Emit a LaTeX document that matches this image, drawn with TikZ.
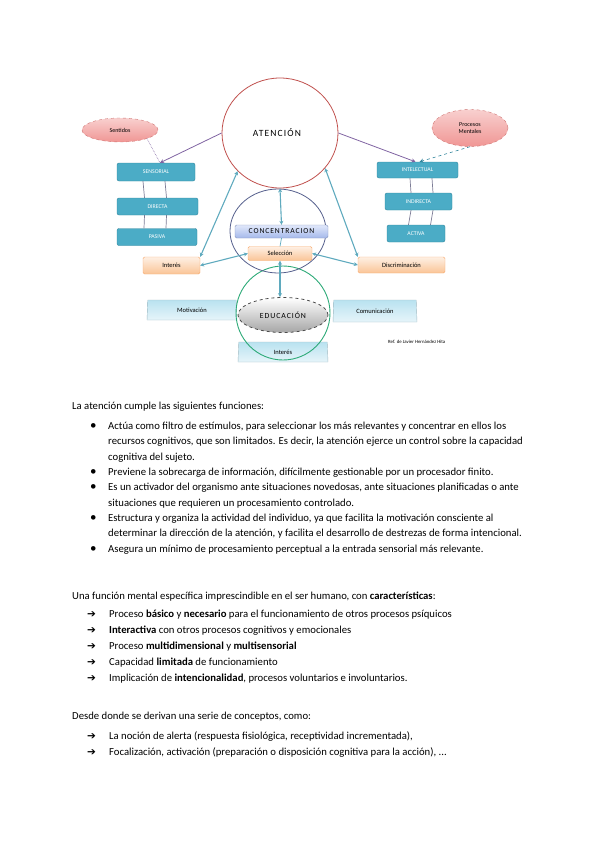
\documentclass[tikz,border=0pt]{standalone}
\usepackage{fontspec}
\setmainfont{Carlito}
\newfontfamily\flechafont{DejaVu Sans}
\newfontfamily\espaciada[LetterSpace=12]{Carlito}
\usetikzlibrary{arrows.meta, positioning, shapes.geometric, calc}
\definecolor{tealbox}{RGB}{75,172,198}
\definecolor{tealdark}{RGB}{49,133,156}
\definecolor{tealline}{RGB}{95,170,190}
\definecolor{purpline}{RGB}{128,100,162}
\definecolor{atenred}{RGB}{192,80,77}
\definecolor{concblue}{RGB}{85,95,140}
\definecolor{educgreen}{RGB}{45,170,120}
\definecolor{pinkfill}{RGB}{240,150,148}
\definecolor{orangeline}{RGB}{247,170,110}
\definecolor{orangelight}{RGB}{254,240,228}
\definecolor{orangemid}{RGB}{250,196,150}
\definecolor{lavlight}{RGB}{225,232,250}
\definecolor{lavmid}{RGB}{165,185,235}
\definecolor{skyfill}{RGB}{185,226,240}
\definecolor{grisline}{RGB}{125,125,150}
\newcommand\cuerpo{\fontsize{10.7}{12}\selectfont}
\tikzset{
  tipo/.style    = {draw=tealdark, fill=tealbox, rounded corners=2pt, text=white,
                    font=\fontsize{5.8}{6}\selectfont, minimum height=17pt},
  rasgo/.style   = {draw=orangeline, top color=orangelight, bottom color=orangemid,
                    rounded corners=1.5pt, font=\fontsize{6.5}{7}\selectfont, minimum height=17pt},
  nube/.style    = {ellipse, draw=atenred!80, dashed, top color=pinkfill!45, bottom color=pinkfill,
                    font=\fontsize{6}{7}\selectfont, align=center},
  plano/.style   = {trapezium, trapezium angle=80, trapezium stretches body,
                    draw=skyfill!60!gray, top color=skyfill, bottom color=skyfill!35,
                    font=\fontsize{6.5}{7}\selectfont, minimum height=20pt},
  flecha/.style  = {{Stealth[length=4pt,width=4pt]}-{Stealth[length=4pt,width=4pt]},
                    tealline, line width=1.1pt},
  flechap/.style = {-{Stealth[length=4pt,width=4pt]}, purpline, line width=0.8pt},
  enlace/.style  = {grisline, line width=0.7pt},
  linea/.style   = {anchor=base west, font=\cuerpo},
  vineta/.style  = {anchor=base west, font=\fontsize{13}{12}\selectfont},
}
\begin{document}
\begin{tikzpicture}[x=1pt, y=-1pt, every node/.style={inner sep=0pt}]
  \useasboundingbox (0,0) rectangle (600,848);

  % esquema de la atencion
  \node[plano, minimum width=90pt] (motiv) at (192,310) {Motivación};
  \node[plano, minimum width=84pt, minimum height=22pt] (comun) at (375,311) {Comunicación};
  \node[plano, minimum width=90pt] (inter2) at (283,352) {Interés};
  \node[circle, draw=educgreen, line width=0.9pt, minimum size=94pt] (educirc) at (283,313) {};
  \node[ellipse, draw=black!70, dashed, line width=0.8pt, top color=white, bottom color=black!35,
        minimum width=90pt, minimum height=35pt, font=\fontsize{7.8}{8}\selectfont\espaciada] (educ) at (283,315) {EDUCACIÓN};

  \node[ellipse, draw=concblue, line width=0.8pt, minimum width=96pt, minimum height=84pt] (conc) at (278,231) {};
  \node[ellipse, draw=atenred, line width=0.8pt, fill=white, minimum width=116pt, minimum height=110pt] (aten) at (280,133) {};
  \node[font=\fontsize{9.5}{11}\selectfont\espaciada] (atentxt) at (277,133) {ATENCIÓN};

  \node[draw=lavmid!80!black, top color=lavlight, bottom color=lavmid, rounded corners=1.5pt,
        minimum width=93pt, minimum height=13pt, font=\fontsize{7.6}{8}\selectfont\espaciada] (concbox) at (281.5,231.5) {CONCENTRACION};
  \node[rasgo, minimum width=64pt, minimum height=14pt] (selec) at (280,253.5) {Selección};
  \node[rasgo, minimum width=57pt] (interes) at (171.5,265.5) {Interés};
  \node[rasgo, minimum width=87pt, minimum height=16pt] (discr) at (401.5,265) {Discriminación};

  \node[tipo, minimum width=78pt, minimum height=18pt] (sens) at (156,172) {SENSORIAL};
  \node[tipo, minimum width=81pt] (dire) at (157.5,206.5) {DIRECTA};
  \node[tipo, minimum width=80pt] (pasi) at (157,237) {PASIVA};
  \node[tipo, minimum width=81pt, minimum height=16pt] (inte) at (417.5,170) {INTELECTUAL};
  \node[tipo, minimum width=67pt] (indi) at (418.5,201.5) {INDIRECTA};
  \node[tipo, minimum width=58pt] (acti) at (416,233.5) {ACTIVA};

  \node[nube, minimum width=76pt, minimum height=24pt] (sentidos) at (120,130) {Sentidos};
  \node[nube, minimum width=76pt, minimum height=37pt] (procesos) at (470,128) {Procesos\\Mentales};

  \foreach \dx in {-13,9} {
    \draw[enlace] ([xshift=\dx pt]sens.south) -- ([xshift=\dx pt]dire.north);
    \draw[enlace] ([xshift=\dx pt]dire.south) -- ([xshift=\dx pt]pasi.north);
  }
  \foreach \dx in {-7.5,14.5} {
    \draw[enlace] ([xshift=\dx pt]inte.south) -- ([xshift=\dx pt]indi.north);
    \draw[enlace] ([xshift=\dx pt]indi.south) -- ([xshift=\dx pt]acti.north);
  }

  \draw[flechap] (aten.west) -- ([xshift=4pt]sens.north);
  \draw[purpline, densely dotted, line width=0.6pt] (sentidos.south east) -- ([xshift=4pt]sens.north);
  \draw[flechap] (aten.east) -- ([xshift=-2pt]inte.north);
  \draw[-{Stealth[length=4pt,width=4pt]}, tealdark, dashed, line width=0.6pt] (procesos.south) -- ([xshift=2pt]inte.north);

  \draw[flecha] (interes.north east) -- (aten.222);
  \draw[flecha] (aten.322) -- (discr.north west);
  \draw[flecha] (aten.south) -- (concbox.north);
  \draw[enlace, tealline] (concbox.south) -- (selec.north);
  \draw[flecha] (selec.south) -- (selec.south |- educ.north);
  \draw[flecha] (interes.east) -- (selec.west);
  \draw[flecha] (selec.east) -- (discr.west);

  \node[font=\fontsize{4.8}{5}\selectfont, anchor=west] (fuente) at (388,342) {Ref. de Javier Hernández Hita};

  % funciones
  \node[linea] (p1) at (72,409) {La atención cumple las siguientes funciones:};
  \foreach \y [count=\i] in {429,475,490.5,521,552}
    \node[vineta] (b\i) at (90,\y) {•};
  \node[linea] (l1) at (108,429) {Actúa como filtro de estímulos, para seleccionar los más relevantes y concentrar en ellos los};
  \node[linea] (l2) at (108,444.5) {recursos cognitivos, que son limitados. Es decir, la atención ejerce un control sobre la capacidad};
  \node[linea] (l3) at (108,460) {cognitiva del sujeto.};
  \node[linea] (l4) at (108,475) {Previene la sobrecarga de información, difícilmente gestionable por un procesador finito.};
  \node[linea] (l5) at (108,490.5) {Es un activador del organismo ante situaciones novedosas, ante situaciones planificadas o ante};
  \node[linea] (l6) at (108,506) {situaciones que requieren un procesamiento controlado.};
  \node[linea] (l7) at (108,521) {Estructura y organiza la actividad del individuo, ya que facilita la motivación consciente al};
  \node[linea] (l8) at (108,536.5) {determinar la dirección de la atención, y facilita el desarrollo de destrezas de forma intencional.};
  \node[linea] (l9) at (108,552) {Asegura un mínimo de procesamiento perceptual a la entrada sensorial más relevante.};

  % caracteristicas
  \node[linea] (p2) at (72,599) {Una función mental específica imprescindible en el ser humano, con \textbf{características}:};
  \foreach \y [count=\i] in {617,633,649,665,681,739,755}
    \node[vineta, font=\fontsize{10.5}{10}\selectfont\flechafont] (f\i) at (87,\y) {➔};
  \node[linea] (c1) at (109,617) {Proceso \textbf{básico} y \textbf{necesario} para el funcionamiento de otros procesos psíquicos};
  \node[linea] (c2) at (109,633) {\textbf{Interactiva} con otros procesos cognitivos y emocionales};
  \node[linea] (c3) at (109,649) {Proceso \textbf{multidimensional} y \textbf{multisensorial}};
  \node[linea] (c4) at (109,665) {Capacidad \textbf{limitada} de funcionamiento};
  \node[linea] (c5) at (109,681) {Implicación de \textbf{intencionalidad}, procesos voluntarios e involuntarios.};

  % conceptos
  \node[linea] (p3) at (72,719) {Desde donde se derivan una serie de conceptos, como:};
  \node[linea] (d1) at (109,739) {La noción de alerta (respuesta fisiológica, receptividad incrementada),};
  \node[linea] (d2) at (109,755) {Focalización, activación (preparación o disposición cognitiva para la acción), ...};
\end{tikzpicture}
\end{document}
